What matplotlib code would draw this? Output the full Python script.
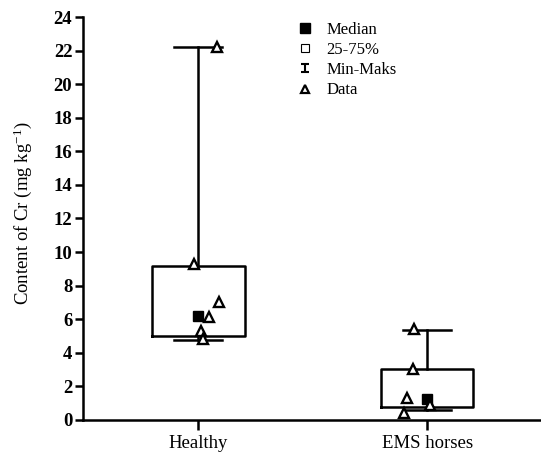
import numpy as np
import matplotlib
matplotlib.use("Agg")
import matplotlib.pyplot as plt
from matplotlib.path import Path
from matplotlib.lines import Line2D

plt.rcParams['font.family'] = ['Liberation Serif', 'DejaVu Serif']
plt.rcParams['mathtext.fontset'] = 'custom'
plt.rcParams['mathtext.rm'] = 'Liberation Serif'
plt.rcParams['mathtext.default'] = 'regular'

# Dane
groups = ['Healthy', 'EMS horses']
q1 = [4.97, 0.75]
q3 = [9.17, 3.00]
medians = [6.17, 1.25]
mins = [4.78, 0.60]
maxs = [22.25, 5.35]
healthy_data = [22.2, 9.27, 7.02, 6.13, 5.29, 4.84]
ems_data = [5.4, 3.04, 1.31, 0.85, 0.39]
# przesuniecie punktow w poziomie
healthy_jitter = [0.08, -0.017, 0.092, 0.048, 0.011, 0.022]
ems_jitter = [-0.057, -0.061, -0.089, 0.013, -0.099]

fig = plt.figure(figsize=(5.41, 4.62), dpi=100)
ax = fig.add_axes([0.1543, 0.0916, 0.8457, 0.871])

stats = []
for i in range(len(groups)):
    stats.append({'med': medians[i], 'q1': q1[i], 'q3': q3[i],
                  'whislo': mins[i], 'whishi': maxs[i], 'fliers': []})

lw = 1.8
ax.bxp(stats, positions=[0, 1], widths=0.405, capwidths=0.21,
       showfliers=False,
       boxprops=dict(color='black', linewidth=lw),
       whiskerprops=dict(color='black', linewidth=lw),
       capprops=dict(color='black', linewidth=lw),
       medianprops=dict(linewidth=0))

ax.plot(np.zeros(1), medians[:1], 's', color='black', markersize=7.5, zorder=4)
ax.plot(np.ones(1), medians[1:], 's', color='black', markersize=7.5, zorder=4)
ax.plot(0 + np.array(healthy_jitter), healthy_data, '^', mfc='white',
        mec='black', mew=1.7, markersize=6.5, zorder=5)
ax.plot(1 + np.array(ems_jitter), ems_data, '^', mfc='white',
        mec='black', mew=1.7, markersize=6.5, zorder=5)

ax.set_xlim(-0.502, 1.498)
ax.set_ylim(0, 24)
ax.set_yticks(np.arange(0, 25, 2))
ax.set_xticks([0, 1])
ax.set_xticklabels(groups, fontsize=13.5)
ax.tick_params(axis='y', labelsize=13.5, width=1.8, length=6, pad=2)
ax.tick_params(axis='x', width=1.8, length=7, pad=4)
for lab in ax.get_yticklabels():
    lab.set_fontweight('bold')
ax.spines['top'].set_visible(False)
ax.spines['right'].set_visible(False)
ax.spines['left'].set_linewidth(1.8)
ax.spines['bottom'].set_linewidth(1.8)
fig.text(23 / 541, 1 - 213 / 462, 'Content of Cr (mg kg$^{-1}$)',
         rotation=90, ha='center', va='center', fontsize=13.5)

# legenda
ibeam = Path([(-1, 1), (1, 1), (0, 1), (0, -1), (-1, -1), (1, -1)],
             [Path.MOVETO, Path.LINETO, Path.MOVETO, Path.LINETO,
              Path.MOVETO, Path.LINETO])
handles = [
    Line2D([], [], ls='none', marker='s', color='black', markersize=7),
    Line2D([], [], ls='none', marker='s', mfc='white', mec='black',
           mew=0.8, markersize=6),
    Line2D([], [], ls='none', marker=ibeam, color='black', mew=1.5,
           markersize=6),
    Line2D([], [], ls='none', marker='^', mfc='white', mec='black',
           mew=1.6, markersize=6),
]
fig.legend(handles, ['Median', '25-75%', 'Min-Maks', 'Data'],
           loc='upper left', bbox_to_anchor=(0.52, 0.985), frameon=False,
           fontsize=12, handlelength=1.0, handletextpad=0.8,
           labelspacing=0.25)

fig.savefig('out.png', dpi=100)
